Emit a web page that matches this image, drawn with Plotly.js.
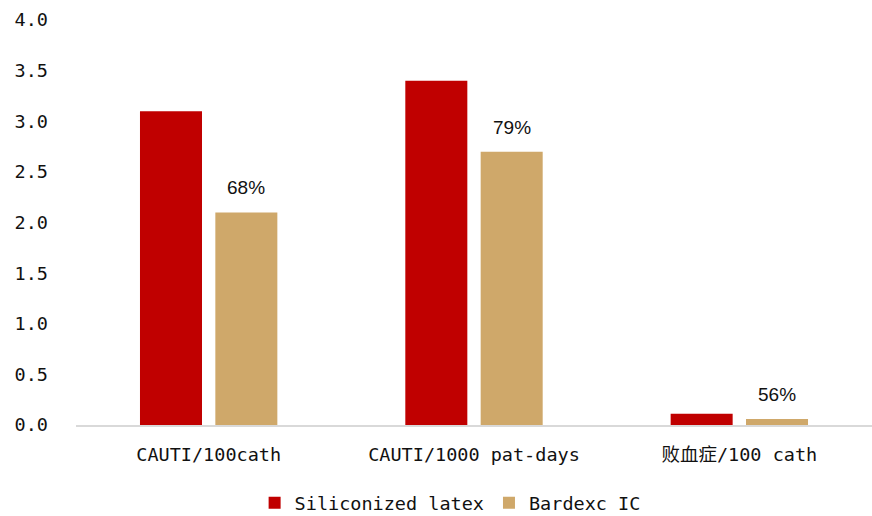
<!DOCTYPE html>
<html>
<head>
<meta charset="utf-8">
<script src="https://cdn.plot.ly/plotly-3.0.1.min.js"></script>
<style>
  html, body { margin: 0; padding: 0; background: #fff; }
  #chart { width: 872px; height: 516px; }
</style>
</head>
<body>
<div id="chart"></div>
<script>
// Infection rates per metric for two catheter types
const categories = ['CAUTI/100cath', 'CAUTI/1000 pat-days', '败血症/100 cath'];
const siliconizedLatex = [3.1, 3.4, 0.11];
const bardexIC = [2.1, 2.7, 0.06];
const ratioLabels = ['68%', '79%', '56%'];
const seriesNames = ['Siliconized latex', 'Bardexc IC'];
const yTicks = [0, 0.5, 1.0, 1.5, 2.0, 2.5, 3.0, 3.5, 4.0];

const RED = '#C00000';
const TAN = '#CFA86A';
const FONT = '"DejaVu Sans Mono", "Noto Sans CJK SC", monospace';

const traces = [
  { type: 'bar', name: seriesNames[0], x: categories, y: siliconizedLatex,
    marker: { color: RED }, hoverinfo: 'skip' },
  { type: 'bar', name: seriesNames[1], x: categories, y: bardexIC,
    marker: { color: TAN }, hoverinfo: 'skip' }
];

const bargap = 0.432, bargroupgap = 0.177;
// horizontal offset of the second bar's centre within its category slot
const secondOffset = (1 - bargap) / 4;

const annotations = bardexIC.map((v, i) => ({
  xref: 'x', yref: 'y', x: i + secondOffset, y: v,
  text: ratioLabels[i], showarrow: false,
  xanchor: 'center', yanchor: 'middle', yshift: 24.5,
  font: { family: '"Liberation Sans", Arial, sans-serif', size: 19, color: '#111' }
}));

const layout = {
  width: 872, height: 516,
  margin: { l: 76, r: 0, t: 20, b: 91, autoexpand: false },
  paper_bgcolor: '#fff', plot_bgcolor: '#fff',
  barmode: 'group', bargap: bargap, bargroupgap: bargroupgap,
  font: { family: FONT, size: 18.5, color: '#111' },
  showlegend: true,
  legend: {
    orientation: 'h', xref: 'paper', yref: 'paper',
    x: 0.47, xanchor: 'center', y: -0.193, yanchor: 'middle',
    font: { family: FONT, size: 18.5, color: '#111' },
    itemwidth: 30, traceorder: 'normal'
  },
  xaxis: {
    type: 'category', showgrid: false, zeroline: false,
    showline: true, linecolor: '#d9d9d9', linewidth: 1.5,
    ticks: '', ticklabelstandoff: 12, automargin: false,
    tickfont: { family: FONT, size: 18.5, color: '#111' }
  },
  yaxis: {
    range: [0, 4.0], tickvals: yTicks,
    ticktext: yTicks.map(v => v.toFixed(1)),
    showgrid: false, zeroline: false, showline: false,
    ticks: '', ticklabelstandoff: 27, automargin: false,
    tickfont: { family: FONT, size: 18.5, color: '#111' }
  },
  annotations: annotations
};

Plotly.newPlot('chart', traces, layout, { staticPlot: true, displayModeBar: false });
</script>
</body>
</html>
